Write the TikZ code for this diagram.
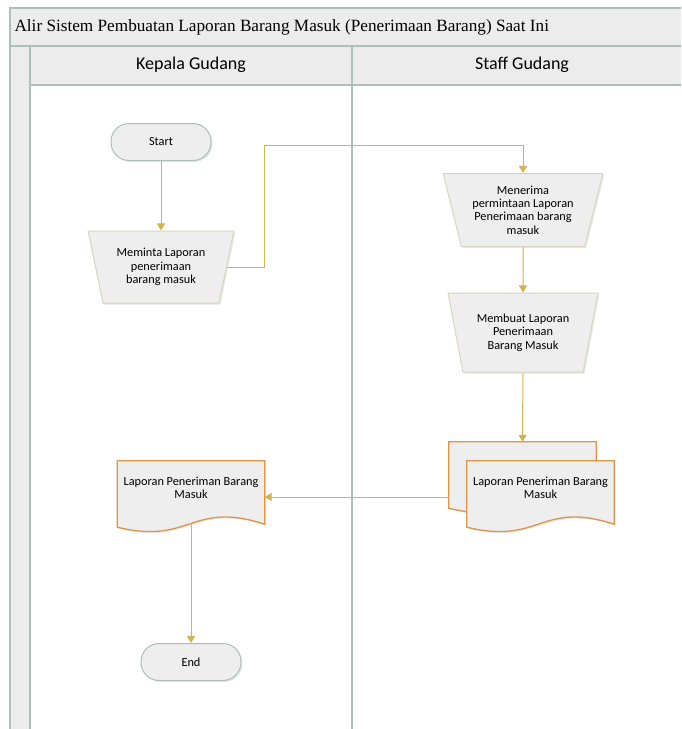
\documentclass[tikz,border=0pt]{standalone}
\usepackage{fontspec}
\setmainfont{Carlito}
\newfontfamily\titlefont{Liberation Serif}
\usetikzlibrary{shapes.geometric,arrows.meta,shadows}
\pgfdeclarelayer{background}
\pgfsetlayers{background,main}
\definecolor{flowgold}{HTML}{D3B24F}
\definecolor{laneline}{HTML}{AEBFB7}
\definecolor{hdrfill}{HTML}{ECECEC}
\definecolor{procfill}{HTML}{EEEEEE}
\definecolor{procline}{HTML}{D9D5C0}
\definecolor{termline}{HTML}{AEBDB6}
\definecolor{docline}{HTML}{DC9549}
\tikzset{
  lane/.style={draw=laneline, line width=1.4pt},
  flow/.style={draw=flowgold, line width=1pt, -{Triangle[width=8pt,length=7pt]}},
  shade/.style={drop shadow={shadow xshift=1.5pt, shadow yshift=-1.5pt, opacity=.18}},
  terminal/.style={rectangle, rounded corners=18pt, draw=termline, line width=1pt, fill=procfill,
    minimum width=100pt, minimum height=37pt, shade},
  manop/.style={trapezium, trapezium angle=73, shape border rotate=180, trapezium stretches=true,
    draw=procline, line width=1pt, fill=procfill, align=center, inner sep=0pt, shade},
  docnode/.style={rectangle, minimum width=147pt, minimum height=54pt, align=center, inner sep=0pt},
  doclinestyle/.style={draw=docline, line width=1.3pt, fill=procfill, shade},
}
\newcommand{\docoutline}[1]{%
  \draw[doclinestyle] (#1.north west) -- (#1.north east) -- ([yshift=-9pt]#1.south east)
    .. controls ([yshift=15pt]#1.south) and ([yshift=-30pt]#1.south) .. ([yshift=-12pt]#1.south west) -- cycle;}
\begin{document}
\begin{tikzpicture}[x=1pt, y=-1pt, font=\fontsize{12.3}{13.4}\selectfont]
  \useasboundingbox (0,0) rectangle (681,729);
  \clip (0,0) rectangle (681,729);
  % pool and lanes
  \draw[lane, fill=hdrfill] (10,8) rectangle (700,46);
  \draw[lane, fill=hdrfill] (10,46) rectangle (30,740);
  \draw[lane, fill=hdrfill] (30,46) rectangle (700,85);
  \draw[lane] (352,46) -- (352,740);
  \node[anchor=west, font=\titlefont\fontsize{17.2}{19}\selectfont] (title) at (11,27)
    {Alir Sistem Pembuatan Laporan Barang Masuk (Penerimaan Barang) Saat Ini};
  \node[font=\fontsize{18}{20}\selectfont] (kepala) at (191,65) {Kepala Gudang};
  \node[font=\fontsize{18}{20}\selectfont] (staff) at (522,65) {Staff Gudang};

  % kepala gudang
  \node[terminal] (start) at (161,142) {Start};
  \node[manop, minimum width=146pt, minimum height=72pt] (minta) at (161,267)
    {Meminta Laporan\\penerimaan\\barang masuk};
  \node[docnode] (lapkg) at (191,488) {Laporan Peneriman Barang\\Masuk};
  \node[terminal] (end) at (191,662) {End};

  % staff gudang
  \node[manop, minimum width=160pt, minimum height=73pt] (terima) at (523,210)
    {Menerima\\permintaan Laporan\\Penerimaan barang\\masuk};
  \node[manop, minimum width=150pt, minimum height=79pt] (buat) at (523,332.5)
    {Membuat Laporan\\Penerimaan\\Barang Masuk};
  \node[docnode] (backdoc) at (522.5,469) {};
  \node[docnode] (lapsg) at (540.5,488) {Laporan Peneriman Barang\\Masuk};

  \begin{pgfonlayer}{background}
    \docoutline{lapkg}
    \docoutline{backdoc}
    \docoutline{lapsg}
  \end{pgfonlayer}

  % arrows
  \coordinate (bend) at (264,145);
  \coordinate (docin) at ([yshift=-9pt]lapkg.east);
  \coordinate (docout) at ([yshift=-8pt]lapkg.south);
  \draw[flow] (start) -- (minta);
  \draw[flow] (minta.east) -| (bend) -| (terima.north);
  \draw[flow] (terima) -- (buat);
  \draw[flow] (buat) -- (backdoc);
  \draw[flow] (backdoc.west |- docin) -- (docin);
  \draw[flow] (docout) -- (end);
\end{tikzpicture}
\end{document}
